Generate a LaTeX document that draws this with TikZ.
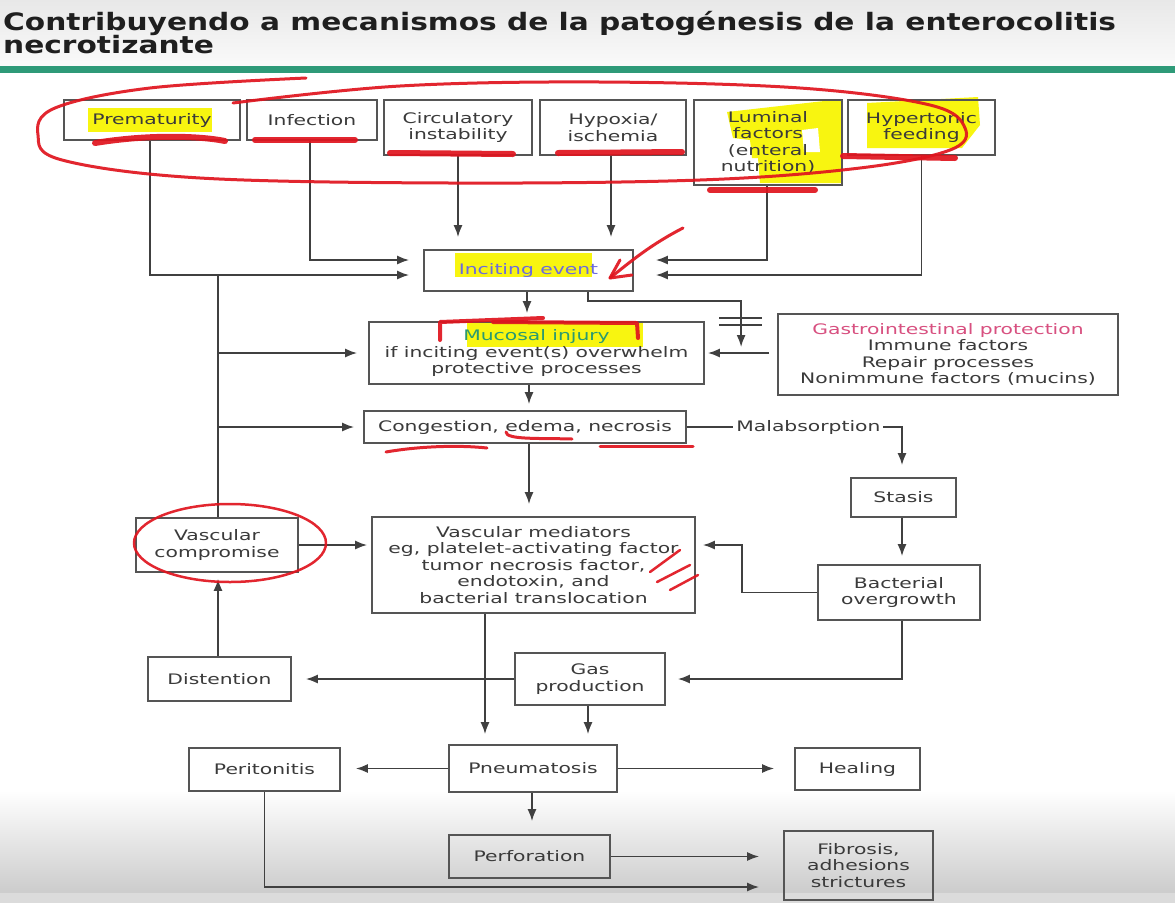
\documentclass[tikz,border=0pt]{standalone}
\usepackage{fontspec}
\setmainfont{DejaVu Sans}
\newfontfamily\boxfont[FakeStretch=1.4]{DejaVu Sans}
\newfontfamily\titlefont[FakeStretch=1.235]{DejaVu Sans}
\usetikzlibrary{arrows.meta,calc}
\definecolor{txt}{HTML}{3A3A3A}
\definecolor{bord}{HTML}{555555}
\definecolor{wirec}{HTML}{404040}
\definecolor{hl}{HTML}{F8F510}
\definecolor{mark}{HTML}{E0141E}
\definecolor{greenbar}{HTML}{2E9A78}
\definecolor{incite}{HTML}{6A6AE0}
\definecolor{mucos}{HTML}{2A9A70}
\definecolor{gip}{HTML}{D85080}
\tikzset{
  box/.style={draw=bord, line width=1.8pt, inner sep=0pt, align=center,
    font=\boxfont\fontsize{14.5}{16.5}\selectfont, text=txt},
  sz/.style 2 args={minimum width=#1pt, minimum height=#2pt},
  wire/.style={draw=wirec, line width=1.6pt},
  arr/.style={wire, -{Latex[length=12pt,width=9pt]}},
  marker/.style={draw=mark, line width=3pt, line cap=round, line join=round, opacity=0.92},
  thickmark/.style={marker, line width=6pt},
  hlite/.style={fill=hl}
}
\begin{document}
\begin{tikzpicture}[x=1pt,y=-1pt]
\useasboundingbox (0,0) rectangle (1175,903);
% background
\fill[white] (0,0) rectangle (1175,903);
\shade[top color=black!9, bottom color=black!2] (0,0) rectangle (1175,66);
\fill[greenbar] (0,66) rectangle (1175,73);
\shade[top color=white, bottom color=black!20] (0,790) rectangle (1175,893);
\fill[black!14] (0,893) rectangle (1175,903);
% title
\node[anchor=base west, inner sep=0pt, text=black!88, font=\titlefont\bfseries\fontsize{24}{24}\selectfont] (t1) at (3,30) {Contribuyendo a mecanismos de la patogénesis de la enterocolitis};
\node[anchor=base west, inner sep=0pt, text=black!88, font=\titlefont\bfseries\fontsize{24}{24}\selectfont] (t2) at (3,53) {necrotizante};
% yellow highlights
\fill[hlite] (88,108) rectangle (212,132);
\fill[hlite] (455,253) rectangle (592,277);
\fill[hlite] (467,323) rectangle (643,347);
\fill[hlite] (727,112) -- (833,100) -- (842,100) -- (842,183) -- (760,183) -- (758,158) -- (752,158) -- (750,140) -- (733,138) -- cycle;
\fill[white] (802,130) -- (818,128) -- (820,152) -- (804,152) -- cycle;
\fill[hlite] (867,103) -- (978,97) -- (980,125) -- (962,148) -- (867,148) -- cycle;
% nodes
\node[box, sz={176}{40}] (prem) at (152,120) {Prematurity};
\node[box, sz={130}{40}] (infe) at (312,120) {Infection};
\node[box, sz={148}{55}] (circ) at (458,127.5) {Circulatory\\instability};
\node[box, sz={146}{55}] (hypo) at (613,127.5) {Hypoxia/\\ischemia};
\node[box, sz={148}{85}] (lumi) at (768,142.5) {Luminal\\factors\\(enteral\\nutrition)};
\node[box, sz={147}{55}] (hypt) at (921.5,127.5) {Hypertonic\\feeding};
\node[box, sz={209}{41}] (inci) at (528.5,270.5) {\textcolor{incite}{Inciting event}};
\node[box, sz={335}{62}] (muco) at (536.5,353) {\textcolor{mucos}{Mucosal injury}\\if inciting event(s) overwhelm\\protective processes};
\node[box, sz={340}{81}] (gipr) at (948,354.5) {\textcolor{gip}{Gastrointestinal protection}\\Immune factors\\Repair processes\\Nonimmune factors (mucins)};
\node[box, sz={322}{32}] (cong) at (525,427) {Congestion, edema, necrosis};
\node[box, sz={105}{39}] (stas) at (903.5,497.5) {Stasis};
\node[box, sz={162}{54}] (vasc) at (217,545) {Vascular\\compromise};
\node[box, sz={323}{96}] (vmed) at (533.5,565) {Vascular mediators\\eg, platelet-activating factor\\tumor necrosis factor,\\endotoxin, and\\bacterial translocation};
\node[box, sz={162}{55}] (bact) at (899,592.5) {Bacterial\\overgrowth};
\node[box, sz={143}{44}] (dist) at (219.5,679) {Distention};
\node[box, sz={150}{52}] (gas) at (590,679) {Gas\\production};
\node[box, sz={151}{43}] (peri) at (264.5,769.5) {Peritonitis};
\node[box, sz={168}{47}] (pneu) at (533,768.5) {Pneumatosis};
\node[box, sz={125}{42}] (heal) at (857.5,769) {Healing};
\node[box, sz={161}{43}] (perf) at (529.5,856.5) {Perforation};
\node[box, sz={149}{69}] (fibr) at (858.5,865.5) {Fibrosis,\\adhesions\\strictures};
% connectors
\draw[arr] ($(prem.south)+(-2,0)$) |- ($(inci.west)+(-14,4.5)$);
\draw[arr] ($(infe.south)+(-2,0)$) |- ($(inci.west)+(-14,-10.5)$);
\draw[arr, shorten >=12pt] (circ.south) -- (circ.south |- inci.north);
\draw[arr, shorten >=12pt] ($(hypo.south)+(-2,0)$) -- ($(hypo.south |- inci.north)+(-2,0)$);
\draw[arr] ($(lumi.south)+(-1,0)$) |- ($(inci.east)+(22,-10.5)$);
\draw[arr] (hypt.south) |- ($(inci.east)+(22,4.5)$);
\draw[arr, shorten >=8pt] ($(inci.south)+(-1.5,0)$) -- ($(inci.south |- muco.north)+(-1.5,0)$);
\draw[arr] ($(inci.south)+(59.5,0)$) -- ++(0,9) -| ($(gipr.west)+(-36,-7.5)$);
\draw[wire] ($(gipr.west)+(-58,-36.5)$) -- ++(43,0);
\draw[wire] ($(gipr.west)+(-58,-29.5)$) -- ++(43,0);
\draw[arr, shorten >=3pt] ($(gipr.west)+(-8,-1.5)$) -- (muco.east);
\draw[wire] ($(vasc.north)+(1,0)$) -- ($(vasc.north |- inci.west)+(1,4.5)$);
\draw[arr, shorten >=11pt] ($(vasc.north |- muco.west)+(1,0)$) -- (muco.west);
\draw[arr, shorten >=9pt] ($(vasc.north |- cong.west)+(1,0)$) -- (cong.west);
\draw[arr, shorten >=6pt] ($(muco.south)+(-7.5,0)$) -- ($(muco.south |- cong.north)+(-7.5,0)$);
\draw[arr, shorten >=12pt] ($(cong.south)+(4,0)$) -- ($(cong.south |- vmed.north)+(4,0)$);
\draw[arr] (cong.east) -- node[pos=0.565, fill=white, inner xsep=3pt, inner ysep=2pt, text=txt, font=\boxfont\fontsize{14.5}{16.5}\selectfont] {Malabsorption} ($(cong.east -| stas.north)+(-1.5,0)$) -- ($(stas.north)+(-1.5,-12)$);
\draw[arr, shorten >=4pt] (vasc.east) -- (vasc.east -| vmed.west);
\draw[arr, shorten >=8pt] ($(stas.south)+(-1.5,0)$) -- ($(stas.south |- bact.north)+(-1.5,0)$);
\draw[arr, shorten >=7pt] (bact.west) -- ++(-75,0) |- ($(vmed.east)+(0,-20)$);
\draw[arr, shorten >=12pt] ($(bact.south)+(3,0)$) |- (gas.east);
\draw[arr, shorten >=14pt] (gas.west) -- (dist.east);
\draw[arr, shorten >=6pt] ($(dist.north)+(-1.5,0)$) -- ($(dist.north |- vasc.south)+(-1.5,0)$);
\draw[arr, shorten >=10pt] ($(vmed.south)+(-48.5,0)$) -- ($(pneu.north)+(-48,0)$);
\draw[arr, shorten >=10pt] ($(gas.south)+(-2,0)$) -- ($(gas.south |- pneu.north)+(-2,0)$);
\draw[arr, shorten >=15pt] (pneu.west) -- (pneu.west -| peri.east);
\draw[arr, shorten >=20pt] (pneu.east) -- (pneu.east -| heal.west);
\draw[arr, shorten >=13pt] ($(pneu.south)+(-1,0)$) -- ($(pneu.south |- perf.north)+(-1,0)$);
\draw[arr, shorten >=24pt] (perf.east) -- (perf.east -| fibr.west);
\draw[arr, shorten >=24pt] (peri.south) |- ($(fibr.west)+(0,21.5)$);
% red marker annotations
\draw[marker] plot[smooth, tension=0.6] coordinates {(306,78) (150,88) (55,108) (38,135) (62,160) (200,178) (450,183) (700,180) (860,168) (950,150) (965,128) (930,105) (800,88) (600,82) (400,86) (233,103)};
\draw[thickmark] (95,143) .. controls (150,134) and (200,136) .. (225,141);
\draw[thickmark] (255,140) -- (355,140);
\draw[thickmark] (390,153) -- (513,154);
\draw[thickmark] (558,153) -- (682,152);
\draw[thickmark] (710,190) -- (815,190);
\draw[thickmark] (843,156) -- (955,158);
\draw[marker] (683,228) .. controls (650,245) and (630,262) .. (610,278);
\draw[marker] (620,260) -- (610,278) -- (632,275);
\draw[marker, line width=4pt] (440,340) -- (440,322) -- (543,318);
\draw[marker, line width=4pt] (493,322) -- (637,323) -- (638,338);
\draw[marker] (386,452) .. controls (420,446) and (460,445) .. (487,448);
\draw[marker] (506,432) .. controls (506,440) and (540,438) .. (572,439);
\draw[marker] (600,446) -- (693,446);
\draw[marker, line width=2.5pt] (230,543) ellipse [x radius=96, y radius=39];
\draw[marker, line width=2.5pt] (650,572) -- (680,550);
\draw[marker, line width=2.5pt] (657,582) -- (690,565);
\draw[marker, line width=2.5pt] (670,590) -- (698,575);
\end{tikzpicture}
\end{document}
